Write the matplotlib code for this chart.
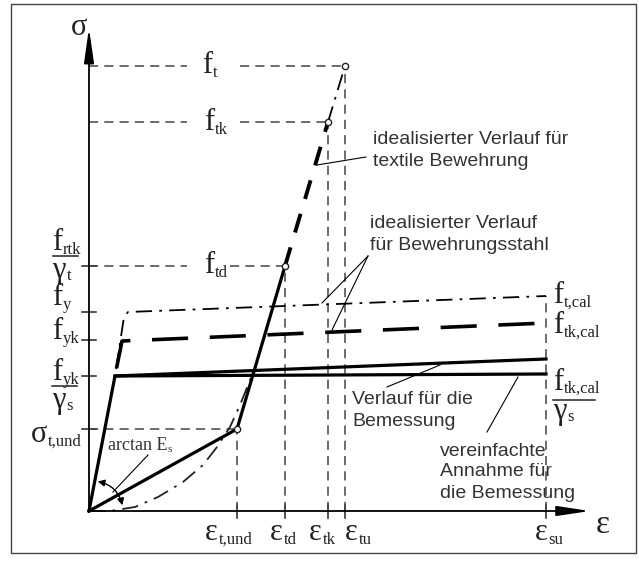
import numpy as np
import matplotlib.pyplot as plt
from matplotlib.patches import Rectangle, FancyArrowPatch

serif = 'Liberation Serif'
sans = 'Liberation Sans'

# schematic values (arbitrary units, origin at 0/0)
eps_t_und, eps_td, eps_tk, eps_tu, eps_su = 148, 196, 239, 256, 457
sig_t_und, f_td, f_tk, f_t = 82, 245, 389, 445

# textile reinforcement: solid / bold dashed / dash-dot parts
tex_eps = [0, eps_t_und, eps_td, eps_tk, eps_tu]
tex_sig = [0, sig_t_und, f_td, f_tk, f_t]
# real textile curve (dash-dot)
curve_eps = [0, 21, 46, 69, 94, 114, 128, 141, 151, 159, 165]
curve_sig = [0, 0, 4, 14, 29, 46, 64, 84, 106, 126, 141]

# steel
design_eps = [0, 26, 457]
design_sig = [0, 135, 152]
simple_eps = [26, 457]
simple_sig = [135, 137]
char_eps = [26, 33, 457]
char_sig = [135, 170, 188]
mean_eps = [27, 35, 39, 457]
mean_sig = [142, 194, 199, 215]

stress_ticks = [245, 199, 171, 135, 82]
strain_ticks = [eps_t_und, eps_td, eps_tk, eps_tu, eps_su]

fig = plt.figure(figsize=(6.39, 5.65), dpi=100)
ax = fig.add_axes([0, 0, 1, 1])
ax.set_xlim(-89, 550)
ax.set_ylim(-54, 511)
ax.axis('off')

ax.add_patch(Rectangle((-78, -42), 625, 549, fill=False, ec='#444', lw=1))

# axes with arrows
ax.annotate('', xy=(0, 483), xytext=(0, 0),
            arrowprops=dict(arrowstyle='-|>,head_length=2.1,head_width=0.3',
                            color='black', lw=1.3, shrinkA=0, shrinkB=0))
ax.annotate('', xy=(501, 0), xytext=(0, 0),
            arrowprops=dict(arrowstyle='-|>,head_length=2.0,head_width=0.3',
                            color='black', lw=1.3, shrinkA=0, shrinkB=0))
for s in stress_ticks:
    ax.plot([-7, 7], [s, s], color='#222', lw=1.1)
for e in strain_ticks:
    ax.plot([e, e], [6, -7], color='#222', lw=1.1)

# thin dashed helper lines
hd = dict(color='#444', lw=1.1, ls=(0, (6, 4)))
ax.plot([0, 98], [f_t, f_t], **hd)
ax.plot([151, eps_tu], [f_t, f_t], **hd)
ax.plot([0, 98], [f_tk, f_tk], **hd)
ax.plot([151, eps_tk], [f_tk, f_tk], **hd)
ax.plot([0, 98], [f_td, f_td], **hd)
ax.plot([141, eps_td], [f_td, f_td], **hd)
ax.plot([0, eps_t_und], [sig_t_und, sig_t_und], **hd)
vd = dict(color='#444', lw=1.1, ls=(0, (6, 4)))
ax.plot([eps_t_und, eps_t_und], [0, sig_t_und], **vd)
ax.plot([eps_td, eps_td], [0, f_td], **vd)
ax.plot([eps_tk, eps_tk], [0, f_tk], **vd)
ax.plot([eps_tu, eps_tu], [0, f_t], **vd)
ax.plot([eps_su, eps_su], [0, mean_sig[-1]], **vd)

# steel curves
ax.plot(design_eps, design_sig, color='black', lw=2.3, solid_joinstyle='miter')
ax.plot(simple_eps, simple_sig, color='black', lw=2.3)
ax.plot(char_eps, char_sig, color='black', lw=2.6, ls=(13.8, (10, 6)))
ax.plot(mean_eps, mean_sig, color='black', lw=1.3, ls=(0, (9, 4, 1.5, 4)))

# textile curves
ax.plot(curve_eps, curve_sig, color='#222', lw=1.3, ls=(0, (9, 4, 1.5, 4)))
ax.plot(tex_eps[:3], tex_sig[:3], color='black', lw=2.3)
ax.plot(tex_eps[2:4], tex_sig[2:4], color='black', lw=2.8, ls=(0, (5, 4)))
ax.plot(tex_eps[3:], tex_sig[3:], color='black', lw=1.3, ls=(0, (9, 4, 1.5, 4)))
ax.plot(tex_eps[1:], tex_sig[1:], ls='none', marker='o', ms=4.5,
        mfc='white', mec='#222', mew=1.0)

# arctan arc
ax.add_patch(FancyArrowPatch((6, 30), (34, 3), connectionstyle='arc3,rad=-0.35',
                             arrowstyle='<|-|>,head_length=4,head_width=2',
                             color='black', lw=1.0))

# leader lines
lead = dict(color='black', lw=0.8)
ax.plot([277, 228], [354, 346], **lead)
ax.plot([279, 233], [255, 208], **lead)
ax.plot([279, 243], [255, 181], **lead)
ax.plot([298, 351], [124, 146], **lead)
ax.plot([398, 429], [79, 134], **lead)
ax.plot([59, 24], [56, 19], **lead)


def sym(x, y, main, sub, dy=-4, size=22, subsize=12):
    ax.text(x, y, main, ha='right', va='baseline', fontsize=size,
            family=serif, color='#222')
    ax.text(x + 0.5, y + dy, sub, ha='left', va='baseline', fontsize=subsize,
            family=serif, color='#222')


def frac(x0, x1, yl, num, numsub, den, densub, nx, dx):
    ax.plot([x0, x1], [yl, yl], color='#222', lw=1.1)
    sym(nx, yl + 6, num, numsub)
    sym(dx, yl - 22, den, densub, dy=-2)


# top labels
sym(123, 438, 'f', 't')
sym(125, 381, 'f', 'tk')
sym(125, 238, 'f', 'td')

# left labels
frac(-36, -11, 255, 'f', 'rtk', 'γ', 't', -27, -23)
sym(-27, 206, 'f', 'y')
sym(-27, 172, 'f', 'yk')
frac(-37, -12, 125, 'f', 'yk', 'γ', 's', -27, -23)
sym(-42, 69, 'σ', 't,und')
ax.text(-10, 476, 'σ', ha='center', va='baseline', fontsize=22,
        family=serif, color='#222')

# bottom labels
sym(129, -29, 'ε', 't,und')
sym(194, -29, 'ε', 'td')
sym(233, -29, 'ε', 'tk')
sym(269, -29, 'ε', 'tu')
sym(459, -29, 'ε', 'su')
ax.text(514, -22, 'ε', ha='center', va='baseline', fontsize=24,
        family=serif, color='#222')

# right labels
sym(474, 208, 'f', 't,cal')
sym(474, 178, 'f', 'tk,cal')
ax.plot([464, 506], [111, 111], color='#222', lw=1.1)
sym(474, 121, 'f', 'tk,cal', dy=-3)
sym(478, 92, 'γ', 's', dy=-2)

# arctan text
ax.text(19, 66, 'arctan E', ha='left', va='center', fontsize=13,
        family=serif, color='#333')
ax.text(79, 61, 's', ha='left', va='center', fontsize=8,
        family=serif, color='#333')

# annotations
tx = dict(fontsize=14, family=sans, color='#333', va='center', ha='left')
ax.text(284, 371, 'idealisierter Verlauf für', **tx)
ax.text(284, 349, 'textile Bewehrung', **tx)
ax.text(281, 288, 'idealisierter Verlauf', **tx)
ax.text(281, 266, 'für Bewehrungsstahl', **tx)
ax.text(263, 111, 'Verlauf für die', **tx)
ax.text(263, 89, 'Bemessung', **tx)
ax.text(351, 60, 'vereinfachte', **tx)
ax.text(351, 39, 'Annahme für', **tx)
ax.text(351, 18, 'die Bemessung', **tx)

fig.savefig('out.png', dpi=100)
